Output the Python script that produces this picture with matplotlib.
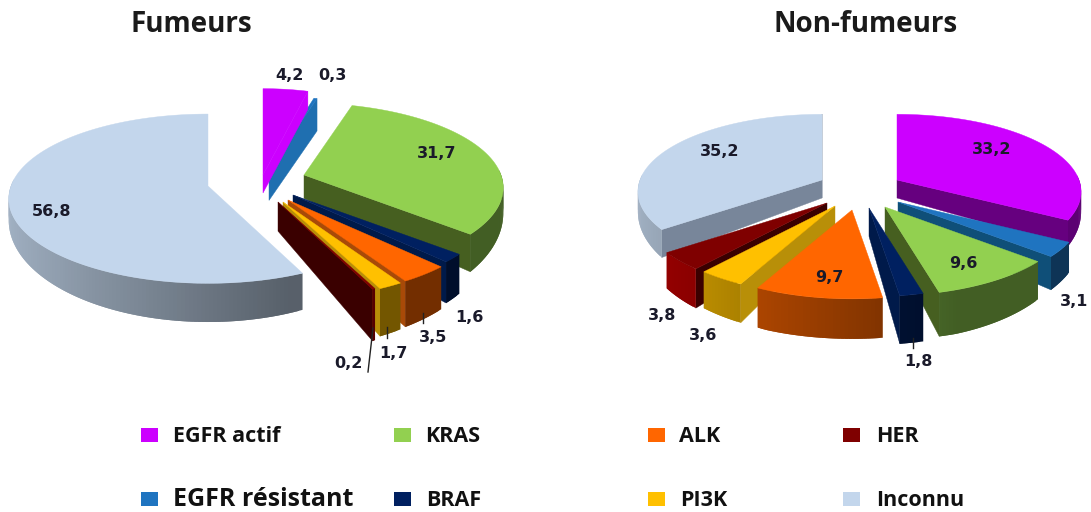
import numpy as np
import matplotlib
matplotlib.use('Agg')
import matplotlib.pyplot as plt

categories = ['EGFR actif', 'EGFR résistant', 'KRAS', 'BRAF', 'ALK', 'PI3K', 'HER', 'Inconnu']
fumeurs = [4.2, 0.3, 31.7, 1.6, 3.5, 1.7, 0.2, 56.8]
non_fumeurs = [33.2, 3.1, 9.6, 1.8, 9.7, 3.6, 3.8, 35.2]

top_colors = ['#CC00FF', '#1F74C0', '#92D050', '#002060', '#FF6600', '#FFC000', '#7F0000', '#C3D6EC']
cut_colors = ['#66007F', '#0F4F78', '#465F20', '#001A4A', '#A84A08', '#B88F08', '#3A0000', '#78869A']
arc_gain = [1, 1, 1, 1, 1, 1, 1.5, 1]

# pixel layout of the two pies
left_pie = dict(cx=258, cy=190, R=197, k=0.42, persp=0.15,
                shift=[(5, -15), (11, -22), (46, -15), (35, 5), (30, 10), (25, 12), (20, 12), (-50, -4)],
                stretch=[1.2, 1, 1, 1, 1, 1, 1, 1],
                hscale=[1, 1.8, 1.3, 1.2, 1.2, 1.2, 1.3, 1],
                cut_override={0: '#CC00FF', 1: '#1F6FB0'})
right_pie = dict(cx=860, cy=200, R=182, k=0.415, persp=0.15,
                 shift=[(37, -20), (38, 2), (25, 7), (9, 8), (-8, 10), (-25, 6), (-33, 3), (-38, -20)],
                 stretch=[1, 1, 1, 1, 1, 1, 1, 1],
                 hscale=[1, 1, 1.1, 1.2, 1, 1, 1.1, 1],
                 cut_override={})


def thickness(y):
    return 18 + 22 * np.clip((y - 180) / 110, 0, 1)


def arc_shade(theta):
    f = 0.55 + 0.28 * (-np.sin(theta))
    return max(f, 0.45)


def scale_color(color, f):
    rgb = np.array(matplotlib.colors.to_rgb(color)) * f
    return tuple(np.clip(rgb, 0, 1))


def draw_wedge(ax, ax0, ay0, th1, th2, R, k, persp, hs, top, cut, gain):
    th = np.linspace(th1, th2, max(int(np.degrees(th2 - th1)), 2) + 1)
    s = 1 / (1 + persp * np.cos(th))
    xs = ax0 + R * np.sin(th) * s
    ys = ay0 - R * k * np.cos(th) * s
    drop = thickness(ys) * hs
    drop0 = thickness(ay0) * hs

    # radial cut faces that look toward the viewer
    if np.sin(th1) < 0:
        ax.fill([ax0, xs[0], xs[0], ax0], [ay0, ys[0], ys[0] + drop[0], ay0 + drop0],
                color=cut, lw=0.3)
    if np.sin(th2) > 0:
        ax.fill([ax0, xs[-1], xs[-1], ax0], [ay0, ys[-1], ys[-1] + drop[-1], ay0 + drop0],
                color=cut, lw=0.3)

    # outer wall, strips overlap by one step so no seams show
    for i in range(len(th) - 1):
        if np.cos(th[i]) < 0.05 or np.cos(th[i + 1]) < 0.05:
            j = min(i + 2, len(th) - 1)
            c = scale_color(top, arc_shade(th[i]) * gain)
            ax.fill(np.r_[xs[i:j + 1], xs[i:j + 1][::-1]],
                    np.r_[ys[i:j + 1], (ys + drop)[i:j + 1][::-1]],
                    color=c, lw=0)

    ax.fill(np.r_[ax0, xs], np.r_[ay0, ys], color=top, lw=0.3)


def draw_pie(ax, values, pie):
    edges = np.radians(np.r_[0, np.cumsum(values)] * 3.6)
    order = []
    for i in range(len(values)):
        mid = (edges[i] + edges[i + 1]) / 2
        ay = pie['cy'] + pie['shift'][i][1]
        order.append(ay - pie['R'] * pie['k'] * np.cos(mid))
    for i in np.argsort(order):
        ax0 = pie['cx'] + pie['shift'][i][0]
        ay0 = pie['cy'] + pie['shift'][i][1]
        cut = pie['cut_override'].get(i, cut_colors[i])
        draw_wedge(ax, ax0, ay0, edges[i], edges[i + 1], pie['R'],
                   pie['k'] * pie['stretch'][i], pie['persp'], pie['hscale'][i],
                   top_colors[i], cut, arc_gain[i])


fig = plt.figure(figsize=(10.91, 5.12), dpi=100)
ax = fig.add_axes([0, 0, 1, 1])
ax.set_xlim(0, 1091)
ax.set_ylim(512, 0)
ax.axis('off')

draw_pie(ax, fumeurs, left_pie)
draw_pie(ax, non_fumeurs, right_pie)

# leader lines
for x1, y1, x2, y2 in [(373, 328, 368, 372), (387, 327, 387, 338), (423, 313, 423, 323), (913, 338, 913, 348)]:
    ax.plot([x1, x2], [y1, y2], color='#222222', lw=1)

label_pos_left = [(290, 76), (332, 75), (437, 154), (469, 318), (433, 337), (393, 353), (348, 364), (52, 211)]
label_pos_right = [(992, 150), (1074, 301), (963, 264), (918, 362), (829, 277), (703, 335), (662, 316), (720, 152)]
for vals, positions in [(fumeurs, label_pos_left), (non_fumeurs, label_pos_right)]:
    for v, (x, y) in zip(vals, positions):
        ax.text(x, y, f'{v:.1f}'.replace('.', ','), ha='center', va='center',
                fontsize=11.5, fontweight='bold', color='#1a1a2a', family='DejaVu Sans')

ax.text(191, 25, 'Fumeurs', ha='center', va='center', fontsize=20, fontweight='bold',
        color='#1a1a1a', family='Open Sans')
ax.text(866, 25, 'Non-fumeurs', ha='center', va='center', fontsize=20, fontweight='bold',
        color='#1a1a1a', family='Open Sans')

# legend
legend_x = {'EGFR actif': (141, 173), 'KRAS': (394, 425), 'ALK': (648, 679), 'HER': (843, 876),
            'EGFR résistant': (141, 173), 'BRAF': (394, 426), 'PI3K': (648, 680), 'Inconnu': (843, 876)}
legend_y = {'EGFR actif': 435, 'KRAS': 435, 'ALK': 435, 'HER': 435,
            'EGFR résistant': 499, 'BRAF': 499, 'PI3K': 499, 'Inconnu': 499}
for name, color in zip(categories, top_colors):
    sx, tx = legend_x[name]
    y = legend_y[name]
    ax.fill([sx, sx + 17, sx + 17, sx], [y - 7, y - 7, y + 7, y + 7], color=color, lw=0)
    big = name == 'EGFR résistant'
    ax.text(tx, y + 1, name, ha='left', va='center', fontsize=18 if big else 15.5,
            fontweight='bold', color='#111111', family='Open Sans')

fig.savefig('out.png', dpi=100)
